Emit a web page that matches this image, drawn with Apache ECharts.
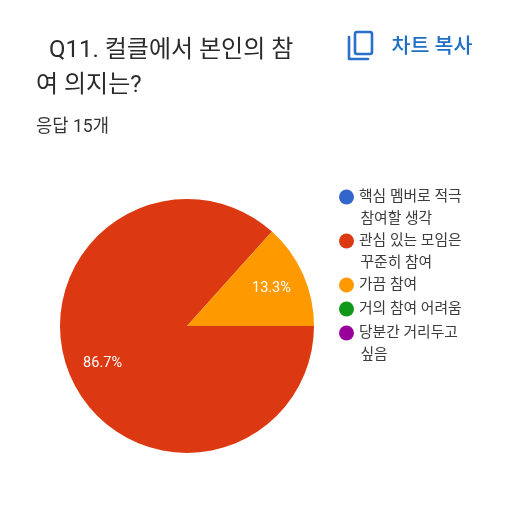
<!DOCTYPE html>
<html><head><meta charset="utf-8">
<style>html,body{margin:0;padding:0;background:#fff}#c{width:512px;height:512px}</style>
<script src="https://cdn.jsdelivr.net/npm/echarts@6/dist/echarts.min.js"></script>
</head><body><div id="c"></div>
<script>
const categories = ['핵심 멤버로 적극\n참여할 생각','관심 있는 모임은\n꾸준히 참여','가끔 참여','거의 참여 어려움','당분간 거리두고\n싶음'];
const values = [0,13,2,0,0];
const colors = ['#3366CC','#DC3912','#FF9900','#109618','#990099'];
const legendTops = [197,241,285,309,333];
const titleLines = ['Q11. 컬클에서 본인의 참','여 의지는?'];
const subtitle = '응답 15개';
const copyLabel = '차트 복사';
const total = values.reduce((a,b)=>a+b,0);
const FONT = 'Roboto, "Noto Sans CJK KR", sans-serif';
const chart = echarts.init(document.getElementById('c'),null,{renderer:'canvas'});
const legendText = {fontFamily:FONT,fontSize:14.8,color:'#3c3c3c',padding:[2,0,0,0]};
const legends = categories.map((c,i)=>({
  left:339, top:legendTops[i]-7.5, orient:'vertical', padding:0,
  itemWidth:15, itemHeight:15, itemGap:0, icon:'circle', selectedMode:false,
  data:[c], formatter:n=>n.split('\n')[0], textStyle:legendText
}));
const graphics = [
  {type:'text',left:49,top:39,style:{text:titleLines[0],font:'24px '+FONT,fill:'#2b2b2b'}},
  {type:'text',left:36,top:74,style:{text:titleLines[1],font:'24px '+FONT,fill:'#2b2b2b'}},
  {type:'text',left:36,top:119,style:{text:subtitle,font:'17.7px '+FONT,fill:'#333'}},
  {type:'text',left:391.5,top:38,style:{text:copyLabel,font:'500 20.6px '+FONT,fill:'#1f6fc4'}},
  {type:'rect',shape:{x:355,y:32,width:17,height:22,r:2},style:{fill:'none',stroke:'#2a6fc9',lineWidth:2.6}},
  {type:'polyline',shape:{points:[[349,37],[349,59],[368,59]]},style:{fill:'none',stroke:'#2a6fc9',lineWidth:2.6,lineCap:'round',lineJoin:'round'}}
];
categories.forEach((c,i)=>{
  const p=c.split('\n');
  if(p[1]) graphics.push({type:'text',left:360.5,top:legendTops[i]+15,style:{text:p[1],font:'14.8px '+FONT,fill:'#3c3c3c'}});
});
const cx=187, cy=326, labelPush=0.39;
chart.setOption({
  animation:false,
  backgroundColor:'#fff',
  color:colors,
  legend:legends,
  graphic:graphics,
  series:[{
    type:'pie', center:[cx,cy], radius:[0,127], startAngle:0, clockwise:true,
    stillShowZeroSum:true, avoidLabelOverlap:false, minShowLabelAngle:1,
    data:categories.map((c,i)=>({name:c,value:values[i]})),
    label:{position:'inside',color:'#fff',fontFamily:FONT,fontSize:14.5,
      formatter:p=>p.value>0?(p.value/total*100).toFixed(1)+'%':''},
    labelLayout:p=>{const r=p.labelRect;return {dx:(r.x+r.width/2-cx)*labelPush,dy:(r.y+r.height/2-cy)*labelPush};},
    labelLine:{show:false},
    itemStyle:{borderWidth:0},
    emphasis:{disabled:true}
  }]
});
</script></body></html>
